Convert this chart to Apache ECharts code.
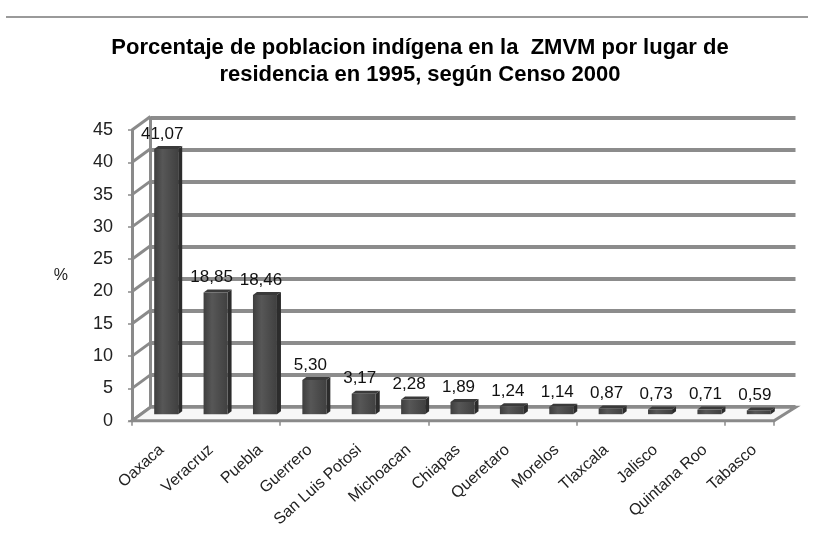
<!DOCTYPE html>
<html><head><meta charset="utf-8">
<script src="https://cdn.jsdelivr.net/npm/echarts@6/dist/echarts.min.js"></script>
<style>html,body{margin:0;padding:0;background:#fff}#c{width:820px;height:554px}</style>
</head><body><div id="c"></div>
<script>
const categories = ['Oaxaca','Veracruz','Puebla','Guerrero','San Luis Potosi','Michoacan','Chiapas','Queretaro','Morelos','Tlaxcala','Jalisco','Quintana Roo','Tabasco'];
const values = [41.07,18.85,18.46,5.30,3.17,2.28,1.89,1.24,1.14,0.87,0.73,0.71,0.59];
const yTicks = [0,5,10,15,20,25,30,35,40,45];
const titleLines = ['Porcentaje de poblacion indígena en la  ZMVM por lugar de','residencia en 1995, según Censo 2000'];
const yAxisName = '%';

const FONT = '"Liberation Sans", Arial, sans-serif';
const WALL = '#8a8a8a';
// 3D depth offsets (style constants)
const DXL = 18.5, DXR = 21.5, DY = -13.5;
const OX = 9.5, OY = -6.5, BW = 24, BDX = 4, BDY = -3;

const chart = echarts.init(document.getElementById('c'), null, {renderer: 'canvas'});

function fmt(v){ return v.toFixed(2).replace('.', ','); }

const option = {
  backgroundColor: '#fff',
  animation: false,
  graphic: [
    {type: 'line', shape: {x1: 6, y1: 17, x2: 808, y2: 17}, style: {stroke: '#9a9a9a', lineWidth: 2}, z: 10},
    {type: 'text', x: 420, y: 34, style: {text: titleLines.join('\n'), fontSize: 22, fontWeight: 'bold', fontFamily: FONT, fill: '#000', textAlign: 'center', textVerticalAlign: 'top', lineHeight: 27}, z: 10}
  ],
  grid: [
    {left: 132, top: 130, width: 642, height: 290.7, outerBoundsMode: 'none', containLabel: false},
    {left: 150.5, top: 118, width: 645, height: 289, outerBoundsMode: 'none', containLabel: false},
    {left: 137, top: 130, width: 642, height: 290.7, outerBoundsMode: 'none', containLabel: false}
  ],
  xAxis: [
    {gridIndex: 0, type: 'category', data: categories, boundaryGap: true,
     axisLine: {show: true, lineStyle: {color: WALL, width: 3}},
     axisTick: {show: true, length: 5, lineStyle: {color: WALL, width: 1.5}},
     axisLabel: {show: false}},
    {gridIndex: 1, type: 'category', data: categories, show: false},
    {gridIndex: 2, type: 'category', data: categories, boundaryGap: true,
     axisLine: {show: false}, axisTick: {show: false},
     axisLabel: {show: true, interval: 0, rotate: 42, margin: 27, fontSize: 16, fontFamily: FONT, color: '#222'}}
  ],
  yAxis: [
    {gridIndex: 0, type: 'value', min: 0, max: 45, interval: 5,
     name: yAxisName, nameLocation: 'middle', nameRotate: 0, nameGap: 64,
     nameTextStyle: {fontSize: 16, fontFamily: FONT, color: '#222'},
     axisLine: {show: true, lineStyle: {color: WALL, width: 3}},
     axisTick: {show: true, length: 4, lineStyle: {color: WALL, width: 1.5}},
     axisLabel: {fontSize: 18, fontFamily: FONT, color: '#222', margin: 19},
     splitLine: {show: false}},
    {gridIndex: 1, type: 'value', min: 0, max: 45, interval: 5,
     axisLine: {show: true, lineStyle: {color: WALL, width: 3}},
     axisTick: {show: false}, axisLabel: {show: false},
     splitLine: {show: true, lineStyle: {color: '#8c8c8c', width: 4}}},
    {gridIndex: 2, type: 'value', min: 0, max: 45, show: false}
  ],
  series: [
    {
      type: 'custom', xAxisIndex: 0, yAxisIndex: 0, z: 1, clip: false, silent: true,
      data: yTicks.map(v => [0, v]),
      renderItem: function (params, api) {
        const p = api.coord([0, api.value(1)]);
        const x0 = p[0] - api.size([1, 0])[0] / 2;
        return {type: 'line', shape: {x1: x0, y1: p[1], x2: x0 + DXL, y2: p[1] + DY},
                style: {stroke: WALL, lineWidth: 3}};
      }
    },
    {
      type: 'custom', xAxisIndex: 0, yAxisIndex: 0, z: 1, clip: false, silent: true,
      data: [[0, 0]],
      renderItem: function (params, api) {
        const p = api.coord([0, 0]);
        const bw = api.size([1, 0])[0];
        const x0 = p[0] - bw / 2, x1 = x0 + bw * categories.length, y = p[1];
        return {type: 'polygon', shape: {points: [[x0, y], [x1, y], [x1 + DXR, y + DY], [x0 + DXL, y + DY]]},
                style: {fill: '#f7f7f7', stroke: WALL, lineWidth: 3}};
      }
    },
    {
      type: 'custom', xAxisIndex: 0, yAxisIndex: 0, z: 3, clip: false, silent: true,
      data: values.map((v, i) => [i, v]),
      renderItem: function (params, api) {
        const i = api.value(0), v = api.value(1);
        const p0 = api.coord([i, 0]), p1 = api.coord([i, v]);
        const cx = p0[0] + OX, yb = p0[1] + OY, yt = p1[1] + OY;
        const xl = cx - BW / 2, xr = cx + BW / 2;
        return {type: 'group', children: [
          {type: 'polygon', shape: {points: [[xr, yt], [xr + BDX, yt + BDY], [xr + BDX, yb + BDY], [xr, yb]]},
           style: {fill: '#2c2c2c'}},
          {type: 'polygon', shape: {points: [[xl, yt], [xl + BDX, yt + BDY], [xr + BDX, yt + BDY], [xr, yt]]},
           style: {fill: '#3a3a3a'}},
          {type: 'rect', shape: {x: xl, y: yt, width: BW, height: yb - yt},
           style: {fill: new echarts.graphic.LinearGradient(0, 0, 1, 0, [
             {offset: 0, color: '#3e3e3e'}, {offset: 0.35, color: '#575757'}, {offset: 1, color: '#404040'}])}},
          {type: 'text', x: cx - 4, y: yt - 15,
           style: {text: fmt(v), fontSize: 17, fontFamily: FONT, fill: '#111', textAlign: 'center', textVerticalAlign: 'middle'}}
        ]};
      }
    }
  ]
};
chart.setOption(option);
</script>
</body></html>
